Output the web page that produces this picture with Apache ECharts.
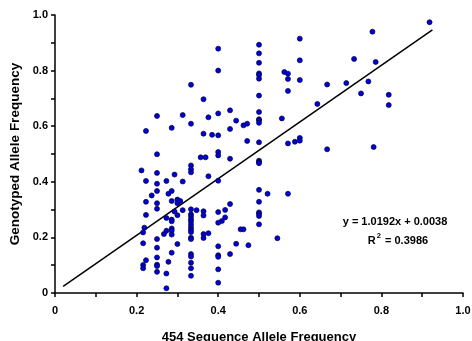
<!DOCTYPE html>
<html><head><meta charset="utf-8">
<script src="https://cdn.jsdelivr.net/npm/echarts@6/dist/echarts.min.js"></script>
<style>html,body{margin:0;padding:0;background:#fff}#c{width:472px;height:341px}</style>
</head><body><div id="c"></div>
<script>
var xAxisTicks = [0, 0.2, 0.4, 0.6, 0.8, 1.0];
var yAxisTicks = [0, 0.2, 0.4, 0.6, 0.8, 1.0];
var xTitle = '454 Sequence Allele Frequency';
var yTitle = 'Genotyped Allele Frequency';
var equationText = 'y = 1.0192x + 0.0038';
var r2Value = '0.3986';
var slope = 1.0192, intercept = 0.0038;
var trendRange = [0.02, 0.925];

// columns of identical x values
var col333 = [0.749,0.609,0.459,0.445,0.434,0.301,0.283,0.275,0.265,0.257,0.246,0.236,0.227,0.219,0.199,0.194,0.140,0.131,0.109,0.089,0.062];
var col400 = [0.879,0.800,0.646,0.567,0.507,0.495,0.404,0.291,0.253,0.168,0.136,0.130,0.085,0.037];
var col500 = [0.893,0.862,0.828,0.790,0.784,0.771,0.710,0.651,0.625,0.621,0.612,0.542,0.476,0.471,0.467,0.371,0.328,0.290,0.285,0.277,0.247];
var col600 = [0.915,0.837,0.766,0.558,0.548];
var otherPoints = [
 [0.212,0.441],[0.223,0.583],[0.223,0.403],[0.223,0.328],[0.223,0.281],[0.219,0.235],[0.216,0.218],[0.216,0.179],[0.216,0.101],[0.216,0.089],[0.223,0.118],[0.237,0.351],
 [0.25,0.637],[0.25,0.499],[0.25,0.432],[0.25,0.393],[0.25,0.367],[0.25,0.323],[0.25,0.303],[0.25,0.194],[0.25,0.163],[0.25,0.128],[0.25,0.102],[0.25,0.097],[0.25,0.076],
 [0.273,0.403],[0.273,0.270],[0.267,0.212],[0.273,0.224],[0.273,0.070],[0.273,0.017],[0.278,0.357],[0.278,0.112],
 [0.286,0.594],[0.286,0.367],[0.286,0.331],[0.286,0.264],[0.286,0.258],[0.286,0.232],[0.286,0.224],[0.286,0.210],[0.286,0.145],
 [0.293,0.426],[0.293,0.293],[0.300,0.336],[0.300,0.323],[0.300,0.280],[0.300,0.176],[0.307,0.331],[0.313,0.640],[0.313,0.401],[0.313,0.298],
 [0.347,0.298],[0.357,0.488],[0.369,0.488],[0.364,0.697],[0.364,0.573],[0.364,0.294],[0.364,0.279],[0.364,0.212],[0.364,0.198],[0.376,0.632],[0.376,0.420],[0.376,0.215],[0.385,0.569],
 [0.409,0.259],[0.417,0.299],[0.417,0.272],[0.429,0.657],[0.429,0.590],[0.429,0.483],[0.429,0.320],[0.429,0.140],[0.444,0.620],[0.444,0.177],[0.455,0.229],[0.462,0.229],[0.462,0.603],[0.471,0.609],[0.471,0.547],[0.474,0.172],
 [0.521,0.357],[0.545,0.197],[0.556,0.628],[0.562,0.795],[0.571,0.789],[0.571,0.770],[0.571,0.727],[0.571,0.538],[0.571,0.357],[0.588,0.544],
 [0.643,0.680],[0.667,0.750],[0.667,0.517],[0.714,0.755],[0.733,0.842],[0.750,0.718],[0.768,0.761],[0.778,0.940],[0.781,0.525],[0.786,0.831],[0.818,0.713],[0.818,0.676],[0.918,0.974]
];

var points = otherPoints.slice();
col333.forEach(function(y){points.push([0.3333,y]);});
col400.forEach(function(y){points.push([0.4,y]);});
col500.forEach(function(y){points.push([0.5,y]);});
col600.forEach(function(y){points.push([0.6,y]);});
var trend = trendRange.map(function(x){return [x, slope*x+intercept];});

function fmt(v){
  var r = Math.round(v*10);
  if (r % 2 !== 0) return '';
  return r === 0 ? '0' : (r/10).toFixed(1);
}
var font = 'Liberation Sans, Arial, sans-serif';
var chart = echarts.init(document.getElementById('c'), null, {renderer:'canvas'});
chart.setOption({
  animation:false,
  grid:{left:55, right:9, top:15, bottom:48, containLabel:false, outerBoundsMode:'none'},
  xAxis:{type:'value', min:0, max:1, interval:0.1,
    name:xTitle, nameLocation:'middle', nameGap:38,
    nameTextStyle:{fontFamily:font, fontWeight:'bold', fontSize:13, color:'#000'},
    axisLine:{lineStyle:{color:'#000', width:1.5}},
    axisTick:{show:true, length:4, lineStyle:{color:'#000', width:1.5}},
    axisLabel:{formatter:fmt, fontFamily:font, fontWeight:'bold', fontSize:11, color:'#000', margin:12},
    splitLine:{show:false}},
  yAxis:{type:'value', min:0, max:1, interval:0.1,
    name:yTitle, nameLocation:'middle', nameGap:33,
    nameTextStyle:{fontFamily:font, fontWeight:'bold', fontSize:13.5, color:'#000'},
    axisLine:{show:true, lineStyle:{color:'#000', width:1.5}},
    axisTick:{show:true, length:4, lineStyle:{color:'#000', width:1.5}},
    axisLabel:{formatter:fmt, fontFamily:font, fontWeight:'bold', fontSize:11, color:'#000', margin:7},
    splitLine:{show:false}},
  series:[
    {type:'scatter', data:points, symbol:'circle', symbolSize:5,
     itemStyle:{color:'#0000dd', borderColor:'#000033', borderWidth:0.7, opacity:1}, z:3},
    {type:'line', data:trend, symbol:'none', lineStyle:{color:'#000', width:1.5}, z:2}
  ],
  graphic:[
    {type:'text', x:395, y:222, style:{text:equationText, align:'center', verticalAlign:'middle', font:'bold 11px Liberation Sans, Arial, sans-serif', fill:'#000'}},
    {type:'text', x:398, y:239, style:{
      text:'{m|R}{s|2}{m| = ' + r2Value + '}', align:'center', verticalAlign:'middle',
      rich:{
        m:{fontFamily:font, fontWeight:'bold', fontSize:11, color:'#000', lineHeight:15, verticalAlign:'bottom'},
        s:{fontFamily:font, fontWeight:'bold', fontSize:7.5, color:'#000', lineHeight:15, verticalAlign:'top', padding:[0,1,0,1]}
      }}}
  ]
});
</script></body></html>
